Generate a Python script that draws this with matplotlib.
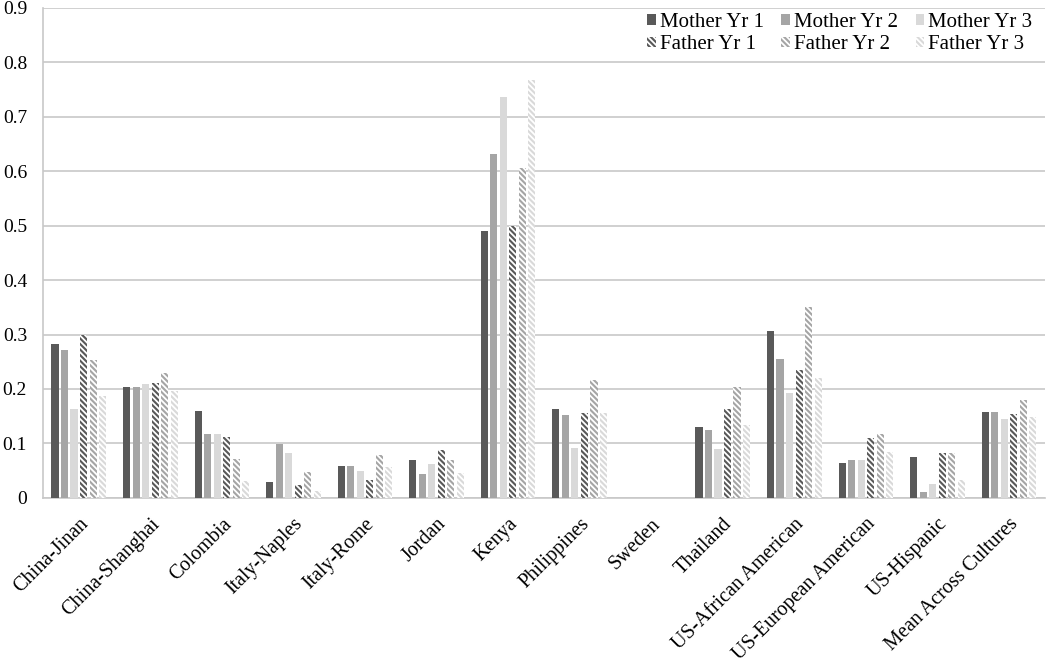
import numpy as np
import matplotlib
matplotlib.use('Agg')
import matplotlib.pyplot as plt

plt.rcParams['font.family'] = ['Liberation Serif', 'DejaVu Serif']
plt.rcParams['hatch.linewidth'] = 1.3

# Categories and series values
categories = ['China-Jinan', 'China-Shanghai', 'Colombia', 'Italy-Naples', 'Italy-Rome',
              'Jordan', 'Kenya', 'Philippines', 'Sweden', 'Thailand',
              'US-African American', 'US-European American', 'US-Hispanic',
              'Mean Across Cultures']

mother_yr1 = [0.283, 0.204, 0.159, 0.029, 0.059, 0.070, 0.490, 0.163, 0, 0.131, 0.306, 0.064, 0.075, 0.157]
mother_yr2 = [0.271, 0.203, 0.118, 0.099, 0.059, 0.044, 0.631, 0.152, 0, 0.125, 0.255, 0.070, 0.011, 0.157]
mother_yr3 = [0.163, 0.209, 0.118, 0.083, 0.050, 0.062, 0.737, 0.091, 0, 0.089, 0.192, 0.069, 0.025, 0.145]
father_yr1 = [0.299, 0.211, 0.111, 0.023, 0.033, 0.088, 0.500, 0.156, 0, 0.163, 0.235, 0.109, 0.083, 0.154]
father_yr2 = [0.253, 0.230, 0.072, 0.048, 0.078, 0.070, 0.606, 0.217, 0, 0.203, 0.350, 0.118, 0.083, 0.179]
father_yr3 = [0.187, 0.197, 0.031, 0.012, 0.056, 0.045, 0.767, 0.156, 0, 0.134, 0.220, 0.085, 0.033, 0.148]

series_names = ['Mother Yr 1', 'Mother Yr 2', 'Mother Yr 3', 'Father Yr 1', 'Father Yr 2', 'Father Yr 3']
series_values = [mother_yr1, mother_yr2, mother_yr3, father_yr1, father_yr2, father_yr3]
colors = ['#595959', '#a5a5a5', '#d9d9d9', '#595959', '#a5a5a5', '#d9d9d9']
hatched = [False, False, False, True, True, True]

fig = plt.figure(figsize=(10.5, 6.62), dpi=100)
ax = fig.add_axes([0.041, 0.248, 0.954, 0.74])

x = np.arange(len(categories))
step = 0.133
width = 0.10
handles = {}
for i, (name, vals) in enumerate(zip(series_names, series_values)):
    pos = x + (i - 2.5) * step
    if hatched[i]:
        b = ax.bar(pos, vals, width, color=colors[i], edgecolor='white',
                   hatch='\\' * 6, linewidth=0, zorder=3, label=name)
    else:
        b = ax.bar(pos, vals, width, color=colors[i], linewidth=0, zorder=3, label=name)
    handles[name] = b

ax.set_xlim(-0.5, len(categories) - 0.5)
ax.set_ylim(0, 0.9)
ax.set_yticks(np.arange(0, 0.91, 0.1))
ax.set_yticklabels(['0'] + ['%.1f' % v for v in np.arange(0.1, 0.91, 0.1)])
ax.yaxis.grid(True, color='#c8c8c8', linewidth=1.2, zorder=0)
ax.set_axisbelow(True)

for s in ['top', 'right']:
    ax.spines[s].set_visible(False)
for s in ['bottom', 'left']:
    ax.spines[s].set_color('#c8c8c8')
    ax.spines[s].set_linewidth(1.2)

ax.set_xticks(x)
ax.set_xticklabels(categories, rotation=45, ha='right', rotation_mode='anchor', fontsize=14.5)
ax.tick_params(axis='both', length=0, colors='black')
ax.tick_params(axis='y', labelsize=14, pad=11.5)
ax.tick_params(axis='x', pad=12)

# legend order fills column-wise: M1, F1, M2, F2, M3, F3
order = ['Mother Yr 1', 'Father Yr 1', 'Mother Yr 2', 'Father Yr 2', 'Mother Yr 3', 'Father Yr 3']
ax.legend([handles[n] for n in order], order, ncol=3, loc='upper right',
          bbox_to_anchor=(1.0, 1.015), frameon=False, fontsize=15,
          handlelength=0.4, handleheight=0.4, handletextpad=0.2,
          columnspacing=0.85, labelspacing=0.15, borderaxespad=0.2)

plt.savefig('out.png', dpi=100)
